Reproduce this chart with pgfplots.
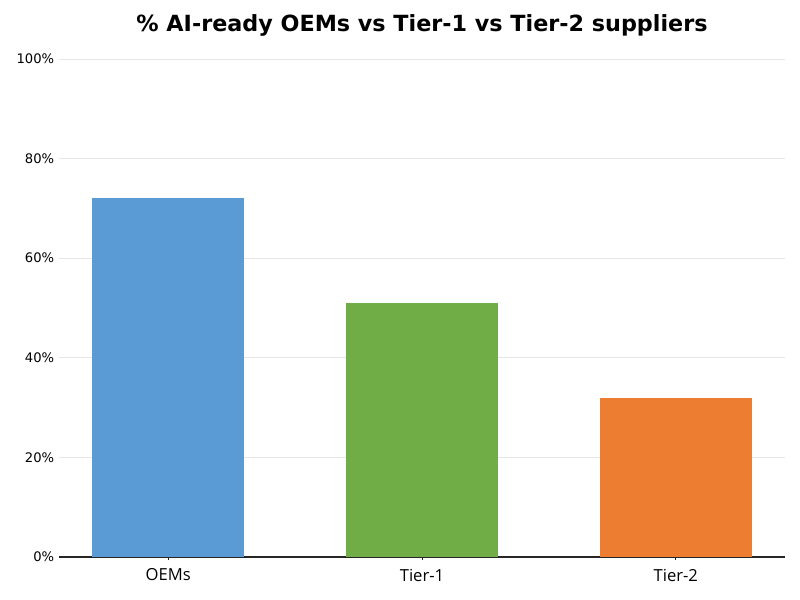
\documentclass[border=0pt]{standalone}
\usepackage{fontspec}
\setmainfont{DejaVu Sans}
\newfontfamily\xlabfont{Open Sans}
\usepackage{pgfplots}
\pgfplotsset{compat=1.18}
\definecolor{cblue}{HTML}{5B9BD5}
\definecolor{cgreen}{HTML}{70AD47}
\definecolor{corange}{HTML}{ED7D31}
\definecolor{gridc}{HTML}{E6E6E6}
\begin{document}
\begin{tikzpicture}
\useasboundingbox (0,0) rectangle (576bp,432bp);
\begin{axis}[
  at={(42.48bp,30.96bp)}, anchor=south west,
  scale only axis,
  width=522.7bp, height=358.6bp,
  xmin=-0.43, xmax=2.43,
  ymin=0, ymax=100,
  xtick={0,1,2},
  xticklabels={OEMs,Tier-1,Tier-2},
  x tick label style={font=\xlabfont\fontsize{12}{14}\selectfont, yshift=-2.5bp},
  ytick={0,20,40,60,80,100},
  yticklabels={0\%,20\%,40\%,60\%,80\%,100\%},
  y tick label style={font=\fontsize{9.5}{11}\selectfont},
  /pgf/number format/assume math mode=true,
  axis line style={draw=none},
  axis x line*=bottom,
  x axis line style={draw=black!85, line width=1.1bp},
  ymajorgrids,
  grid style={gridc, line width=0.6bp},
  major tick length=2.5bp,
  xtick pos=bottom, xtick align=outside,
  ytick style={draw=none},
  xtick style={black!85, line width=0.7bp},
  title={\bfseries\fontsize{16.1}{19}\selectfont \% AI-ready OEMs vs Tier-1 vs Tier-2 suppliers},
  title style={yshift=7bp},
  clip=false,
]
\addplot[ybar, bar width=0.6, fill=cblue, draw=none, bar shift=0] coordinates {(0,72)};
\addplot[ybar, bar width=0.6, fill=cgreen, draw=none, bar shift=0] coordinates {(1,51)};
\addplot[ybar, bar width=0.6, fill=corange, draw=none, bar shift=0] coordinates {(2,32)};
\end{axis}
\end{tikzpicture}
\end{document}
